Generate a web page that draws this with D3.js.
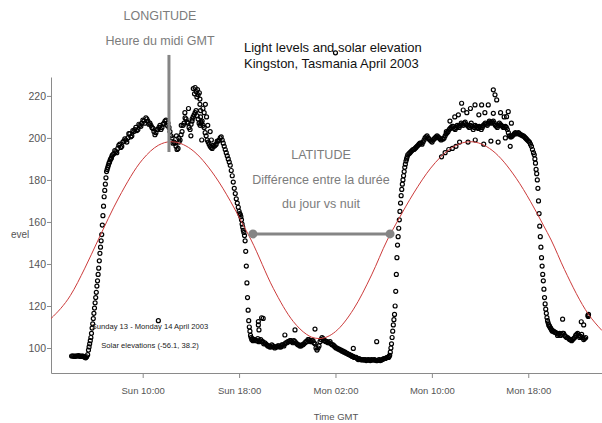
<!DOCTYPE html>
<html>
<head>
<meta charset="utf-8">
<script src="https://cdn.jsdelivr.net/npm/d3@7"></script>
<style>
body { margin: 0; background: #fff; }
text { font-family: "Liberation Sans", Arial, sans-serif; }
</style>
</head>
<body>
<svg id="chart" width="602" height="423"></svg>
<script>
// light readings, hours since Sun 13 April 2003 00:00 GMT
// each run: start hour, sampling step in minutes, values
var night0 = [96.2, 96.2, 96.2, 96.2, 96.2, 96.2, 96, 95.3, 96.8];
var night0b = [96.2, 96, 96.2, 96.4, 96, 96.2, 95.6, 95.8];
var dawn1 = [
    99, 100.5, 102, 103.5, 105, 107, 109.5, 111.5, 114, 116.5,
    119, 121.5, 124, 126.5, 129.5, 132, 135, 138, 141.5, 145,
    148, 151, 154, 158.5, 163, 167.5, 172, 175, 178, 181,
    184, 185, 186, 187, 188, 188.5, 189.5, 190, 190.5, 191.5, 192
];
var day1 = [
    192.5, 193.5, 195, 197, 196, 198.5,
    199, 200, 202, 201, 203, 205,
    204, 206, 207, 208, 209.5, 208,
    207, 205, 203, 202.5, 204, 206,
    205, 207, 208.5, 207, 203, 200,
    198, 196, 195, 199, 203, 207,
    209, 207, 204, 208, 211, 213,
    209, 206, 208, 205, 201, 198,
    196, 195, 196, 197, 198.5, 200,
    199, 196, 193, 190, 187, 182,
    176, 171, 167
];
var day1b = [
    194, 193, 196.5, 195.5, 198, 199.5,
    198, 202, 200.5, 203.5, 204, 203.5,
    206.5, 205.5, 208.5, 207, 209, 206.5,
    206, 204.5, 201.5, 204, 205, 204,
    206.5, 208, 206, 205, 201, 197.5,
    197.5, 194.5, 198, 201.5, 206, 209.5,
    207.5, 205, 206.5, 210, 212, 210.5,
    207, 207.5, 206, 202.5, 199, 197,
    195.5, 196.5, 196.5, 198.5, 199, 200.5,
    197.5, 194.5, 191.5, 188.5, 184.5, 179,
    173.5, 169
];
var dusk1 = [
    165, 164, 163.5, 162.5, 161, 159, 157.5, 156, 155, 153.5,
    151, 146, 139, 131, 124, 118, 113, 110, 108, 106,
    105, 104, 104.5, 103.5, 104
];
var night1 = [
    104, 103.5, 103, 104, 103, 102.5,
    101.5, 101, 100.5, 101, 100, 100.5,
    101, 100.5, 101.5, 102, 102.5, 103,
    103.5, 102.5, 103, 102, 101.5, 101,
    101.5, 102.5, 103, 104, 103, 103.5,
    102, 99, 101, 104, 104.5, 103.5,
    103, 102.5, 102, 101.5, 100.5, 100,
    99.5, 99, 98.5, 98, 97.5, 97,
    96.5, 96, 95.5, 95, 95, 94.5,
    94.5, 94.5, 94.3, 94.3, 94.5, 94.3,
    94.3, 94, 94.5, 94.3, 94.8, 95,
    95.5
];
var night1b = [
    103.5, 104.5, 103.5, 103, 102, 102,
    101, 100.5, 101.5, 100.5, 100.5, 101,
    100.5, 101.5, 101, 102.5, 103, 103.5,
    103, 103.5, 102.5, 101.5, 101, 101.5,
    102, 103, 104, 103.5, 103.5, 102.5,
    100, 100, 103, 105, 103.5, 103,
    102.5, 103, 101.5, 101, 100, 99.5,
    99, 98.5, 98, 97.5, 97, 96.5,
    96, 95.5, 95.5, 94.5, 94.5, 94.3,
    94.3, 94, 94.5, 94, 94.3, 94.5,
    94, 94.3, 94, 94.5, 95, 95.3
];
var dawn2 = [
    95.5, 96, 96.5, 98, 100, 102, 105, 108, 111, 113.5,
    116, 120, 127, 135, 143, 149, 153, 157, 161, 165,
    169, 172.5, 175.5, 178, 180, 182, 184, 186, 187.5, 189,
    190, 191, 192
];
var day2 = [
    192.5, 193.5, 194.5, 195, 196, 197,
    197.5, 198, 200, 201, 199.5, 198.5,
    199, 200, 201, 200, 199, 199.5,
    201, 202.5, 204, 205, 205.5, 204,
    206, 205, 207, 206, 207.5, 206,
    205, 207, 204, 206, 205, 205.5,
    204, 206, 207, 206, 208, 207,
    208, 206, 205, 207, 206, 205,
    205.5, 204, 201, 200.5, 201.5, 202.5,
    202, 202, 201.5, 201, 200, 199,
    198, 196, 193
];
var day2b = [
    193, 194, 194.5, 195.5, 196.5, 197.5,
    197, 199, 200.5, 200, 199, 198,
    199.5, 200.5, 200.5, 199.5, 199.5, 200,
    202, 203, 204.5, 205.5, 204.5, 205,
    205.5, 206, 206.5, 207, 206.5, 205.5,
    206, 205.5, 205, 205.5, 204.5, 205,
    205, 206.5, 206.5, 207, 207.5, 207.5,
    207, 205.5, 206, 206.5, 205.5, 205,
    205, 202.5, 200.5, 201, 202, 202,
    202.5, 201.5, 201, 200.5, 199.5, 198.5,
    197, 194.5
];
var dusk2 = [
    192, 190, 188, 185, 183, 180, 176, 170, 164, 158,
    153, 148, 143, 139, 135, 132, 128, 124, 121, 118.5,
    116.5, 114.5, 113, 112, 111, 110.5, 110, 109.5, 109, 108.5, 108
];
var night2 = [
    108, 107.5, 106, 107, 106.5, 107,
    105.5, 105, 104, 103.5, 104.5, 106,
    107, 105, 106.5, 104, 105
];
var night2b = [
    107.5, 107, 106.5, 106, 107, 106,
    105, 104.5, 104, 104, 105, 106.5,
    106, 105.5, 105, 104.5
];
// stray readings: [hour, level]
var outliers = [
    [11.3, 113], [12.8, 201], [13.0, 200], [13.2, 206], [13.5, 212], [13.8, 214],
    [14.0, 201], [14.1, 209], [14.2, 223.5], [14.3, 221], [14.35, 224], [14.45, 222],
    [14.5, 219.5], [14.55, 223], [14.6, 220.5], [14.7, 221.5], [14.75, 218.5],
    [14.75, 216], [14.8, 213], [14.8, 210], [14.85, 207], [14.9, 199], [15.0, 214],
    [15.1, 212], [15.2, 216], [15.3, 210], [15.4, 206], [15.6, 203], [15.7, 199],
    [19.6, 111], [19.6, 112.6], [19.65, 108.6], [19.87, 114.4], [20.0, 114.1],
    [21.8, 106.2], [22.64, 108.6], [24.3, 109], [26.0, 240.5], [27.48, 99.8], [29.42, 103],
    [34.8, 191], [35.1, 193], [35.2, 203], [35.4, 194.5], [35.5, 208], [35.7, 195],
    [35.9, 210], [36.0, 196], [36.2, 211], [36.3, 198], [36.47, 216.5], [36.6, 213.3],
    [36.9, 212], [37.0, 198], [37.2, 214], [37.58, 215.7], [37.6, 199], [37.9, 211],
    [38.13, 215.7], [38.3, 197], [38.4, 212], [38.68, 215.7], [38.9, 198.5],
    [39.1, 222.9], [39.24, 220.5], [39.38, 218.1], [39.1, 211.7], [39.5, 198],
    [39.7, 212], [40.0, 210], [40.1, 200], [40.2, 210.1], [40.34, 212.5], [40.5, 196],
    [40.6, 207], [44.85, 113.7], [46.4, 112.5], [46.6, 111], [46.95, 115.5],
    [46.98, 115], [47.0, 116]
];
// solar elevation, drawn on the light scale
var elevHours = [2.39, 4, 5.2, 6.3, 8, 10, 11.3, 12.35, 14, 16, 17.3, 18.2, 19, 20.84,
    22.5, 23.6, 24, 24.64, 25.3, 26, 27.5, 29, 30.3, 31.2, 32.5, 33.9, 35.5, 37.2,
    39, 41, 42.2, 43.25, 43.9, 45, 46.98, 48.12];
var elevLevels = [114, 125, 138, 151.4, 171.4, 189.8, 196.5, 198.2, 194.7, 181.8, 169.7, 160.1, 151.4, 128.4,
    112.6, 106.5, 105.2, 104.5, 105.3, 107.8, 118.5, 134.8, 151.4, 160.9, 173.8, 185.6, 194.7, 198.2,
    194.1, 180.8, 169.6, 158.5, 151.4, 137.4, 116.2, 108.3];
var levelTicks = [100, 120, 140, 160, 180, 200, 220];
var timeTicks = [10, 18, 26, 34, 42];

var day0 = Date.UTC(2003, 3, 13);
function hourDate(h) { return new Date(day0 + h * 3600000); }

var svg = d3.select("#chart");
svg.append("rect").attr("width", 602).attr("height", 423).attr("fill", "#fff");

var x = d3.scaleUtc().domain([hourDate(2.39), hourDate(48.12)]).range([51, 602]);
var y = d3.scaleLinear().domain([88.1, 229]).range([373, 77]);

var half = 5 / 60;
var segments = [
    [4.1, 10, night0], [4.1 + half, 10, night0b], [5.5, 3, dawn1],
    [7.6, 10, day1], [7.6 + half, 10, day1b], [18.0, 3, dusk1],
    [19.3, 10, night1], [19.3 + half, 10, night1b], [30.4, 3, dawn2],
    [32.1, 10, day2], [32.1 + half, 10, day2b], [42.5, 3, dusk2],
    [44.1, 10, night2], [44.1 + half, 10, night2b]
];
var readings = [];
segments.forEach(function (s) {
    s[2].forEach(function (v, i) {
        readings.push({ t: hourDate(s[0] + i * s[1] / 60), v: v });
    });
});
outliers.forEach(function (p) { readings.push({ t: hourDate(p[0]), v: p[1] }); });

svg.append("defs").append("clipPath").attr("id", "plot")
    .append("rect").attr("x", 51).attr("y", 77).attr("width", 551).attr("height", 296);

// axes
var xAxis = svg.append("g").attr("transform", "translate(0,373)")
    .call(d3.axisBottom(x)
        .tickValues(timeTicks.map(hourDate))
        .tickFormat(d3.utcFormat("%a %H:%M"))
        .tickSize(5).tickSizeOuter(0).tickPadding(9));
var yAxis = svg.append("g").attr("transform", "translate(51,0)")
    .call(d3.axisLeft(y).tickValues(levelTicks).tickSize(4).tickSizeOuter(0).tickPadding(1));
[xAxis, yAxis].forEach(function (g) {
    g.select(".domain").attr("stroke", "#8a8a8a");
    g.selectAll(".tick line").attr("stroke", "#8a8a8a");
    g.selectAll(".tick text").attr("fill", "#555").attr("font-size", 9.5)
        .attr("font-family", "Liberation Sans, Arial, sans-serif");
});
yAxis.selectAll(".tick text").attr("font-size", 10.5);

svg.append("text").attr("x", 336).attr("y", 420).attr("text-anchor", "middle")
    .attr("font-size", 9.5).attr("fill", "#555").text("Time GMT");
svg.append("text").attr("x", 11).attr("y", 238)
    .attr("font-size", 10).attr("fill", "#555").text("evel");

// light readings as open circles
svg.append("g").selectAll("circle").data(readings).enter().append("circle")
    .attr("cx", function (d) { return x(d.t); })
    .attr("cy", function (d) { return y(d.v); })
    .attr("r", 2)
    .attr("fill", "none")
    .attr("stroke", "#000")
    .attr("stroke-width", 1.2);

// solar elevation
var elev = elevHours.map(function (h, i) { return { t: hourDate(h), v: elevLevels[i] }; });
svg.append("path").datum(elev)
    .attr("clip-path", "url(#plot)")
    .attr("fill", "none")
    .attr("stroke", "#cc3b3b")
    .attr("stroke-width", 1)
    .attr("d", d3.line()
        .x(function (d) { return x(d.t); })
        .y(function (d) { return y(d.v); })
        .curve(d3.curveMonotoneX));

// annotations
var noonHour = 12.18;
svg.append("line")
    .attr("x1", x(hourDate(noonHour))).attr("x2", x(hourDate(noonHour)))
    .attr("y1", y(239.5)).attr("y2", y(193.3))
    .attr("stroke", "#858585").attr("stroke-width", 3);

var latSpan = [19.15, 30.53], latLevel = 154.3;
svg.append("line")
    .attr("x1", x(hourDate(latSpan[0]))).attr("x2", x(hourDate(latSpan[1])))
    .attr("y1", y(latLevel)).attr("y2", y(latLevel))
    .attr("stroke", "#858585").attr("stroke-width", 3);
svg.selectAll(".latEnd").data(latSpan).enter().append("circle")
    .attr("class", "latEnd")
    .attr("cx", function (h) { return x(hourDate(h)); })
    .attr("cy", y(latLevel))
    .attr("r", 4.5)
    .attr("fill", "#858585");

var grey = "#7c7c7c";
svg.append("text").attr("x", 160).attr("y", 20).attr("text-anchor", "middle")
    .attr("font-size", 12.5).attr("fill", grey).text("LONGITUDE");
svg.append("text").attr("x", 160).attr("y", 45).attr("text-anchor", "middle")
    .attr("font-size", 12.5).attr("fill", grey).text("Heure du midi GMT");
svg.append("text").attr("x", 321).attr("y", 159).attr("text-anchor", "middle")
    .attr("font-size", 12.5).attr("fill", grey).text("LATITUDE");
svg.append("text").attr("x", 321).attr("y", 184).attr("text-anchor", "middle")
    .attr("font-size", 12.5).attr("fill", grey).text("Différence entre la durée");
svg.append("text").attr("x", 321).attr("y", 208).attr("text-anchor", "middle")
    .attr("font-size", 12.5).attr("fill", grey).text("du jour vs nuit");

svg.append("text").attr("x", 244).attr("y", 52)
    .attr("font-size", 13).attr("fill", "#111").text("Light levels and solar elevation");
svg.append("text").attr("x", 244).attr("y", 68)
    .attr("font-size", 13).attr("fill", "#111").text("Kingston, Tasmania April 2003");

svg.append("text").attr("x", 150).attr("y", 329).attr("text-anchor", "middle")
    .attr("font-size", 7.6).attr("fill", "#222").text("Sunday 13 - Monday 14 April 2003");
svg.append("text").attr("x", 150).attr("y", 348).attr("text-anchor", "middle")
    .attr("font-size", 7.6).attr("fill", "#222").text("Solar elevations (-56.1, 38.2)");
</script>
</body>
</html>
